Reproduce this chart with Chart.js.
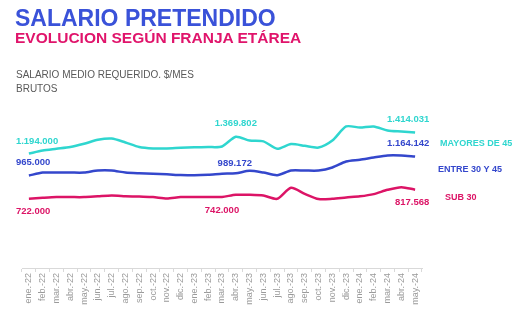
<!DOCTYPE html>
<html>
<head>
<meta charset="utf-8">
<script src="https://cdn.jsdelivr.net/npm/chart.js@4.4.1/dist/chart.umd.min.js"></script>
<style>
html, body { margin: 0; padding: 0; background: #fff; }
#wrap { position: relative; width: 532px; height: 328px; font-family: "Liberation Sans", Arial, sans-serif; }
#wrap canvas { position: absolute; left: 0; top: 0; }
.t { position: absolute; left: 15px; white-space: nowrap; }
#title { top: 7px; font-size: 23px; line-height: 23px; font-weight: bold; color: #3a52d9; }
#sub { top: 30px; font-size: 15.5px; line-height: 15.5px; font-weight: bold; color: #e0146b; }
#note { top: 68px; left: 16px; font-size: 10px; line-height: 14px; color: #595959; }
</style>
</head>
<body>
<div id="wrap">
	<canvas id="chart" width="532" height="328"></canvas>
	<div class="t" id="title">SALARIO PRETENDIDO</div>
	<div class="t" id="sub">EVOLUCION SEGÚN FRANJA ETÁREA</div>
	<div class="t" id="note">SALARIO MEDIO REQUERIDO. $/MES<br>BRUTOS</div>
</div>
<script>
'use strict'

// meses ene.-22 .. may.-24
var months = ['ene.-22','feb.-22','mar.-22','abr.-22','may.-22','jun.-22','jul.-22','ago.-22','sep.-22','oct.-22','nov.-22','dic.-22',
	'ene.-23','feb.-23','mar.-23','abr.-23','may.-23','jun.-23','jul.-23','ago.-23','sep.-23','oct.-23','nov.-23','dic.-23',
	'ene.-24','feb.-24','mar.-24','abr.-24','may.-24'];

var seriesNames = ['MAYORES DE 45', 'ENTRE 30 Y 45', 'SUB 30'];

var mayores45 = [1194000, 1226000, 1244000, 1262000, 1296000, 1338000, 1351000, 1310000, 1262000, 1247000, 1247000, 1254000,
	1259000, 1262000, 1268000, 1369802, 1330000, 1322000, 1244000, 1293000, 1275000, 1257000, 1330000, 1477000,
	1466000, 1477000, 1435000, 1424000, 1414031];

var entre30y45 = [965000, 996000, 996000, 996000, 996000, 1017000, 1017000, 996000, 988000, 983000, 978000, 970000,
	967000, 972000, 983000, 989172, 1014000, 996000, 969000, 1017000, 1017000, 1017000, 1049000, 1111000,
	1129000, 1153000, 1174000, 1174000, 1164142];

var sub30 = [722000, 732000, 740000, 740000, 740000, 748000, 756000, 750000, 745000, 740000, 725000, 740000,
	740000, 740000, 742000, 764000, 764000, 756000, 722000, 837000, 774000, 719000, 722000, 736000,
	748000, 771000, 816000, 844000, 817568];

var colors = ['#2fd6cf', '#3447cc', '#dc1466'];

// puntos con su valor escrito: [serie, mes, dx, dy, alineacion]
var valueLabels = [
	[0, 0, -13, -12, 'left'], [1, 0, -13, -13, 'left'], [2, 0, -13, 13, 'left'],
	[0, 15, 0, -13, 'center'], [1, 15, -1, -10, 'center'], [2, 14, 0, 13, 'center'],
	[0, 28, -7, -13, 'center'], [1, 28, -7, -13, 'center'], [2, 28, -3, 13, 'center']
];
// nombre de cada serie a la derecha: [dx desde el borde, dy desde el ultimo punto]
var nameOffsets = [[18, 11], [16, 13], [23, 8]];

function fmt (v) {
	return Math.round(v).toString().replace(/\B(?=(\d{3})+(?!\d))/g, '.');
}

var labelPlugin = {
	id: 'labels',
	afterDatasetsDraw: function (chart) {
		var ctx = chart.ctx, area = chart.chartArea;
		ctx.save();
		ctx.textBaseline = 'middle';
		ctx.font = 'bold 9.5px "Liberation Sans", Arial, sans-serif';
		valueLabels.forEach(function (l) {
			var ds = chart.data.datasets[l[0]],
				pt = chart.getDatasetMeta(l[0]).data[l[1]];
			ctx.fillStyle = ds.borderColor;
			ctx.textAlign = l[4];
			ctx.fillText(fmt(ds.data[l[1]]), pt.x + l[2], pt.y + l[3]);
		});
		ctx.font = 'bold 9px "Liberation Sans", Arial, sans-serif';
		ctx.textAlign = 'left';
		chart.data.datasets.forEach(function (ds, k) {
			var pts = chart.getDatasetMeta(k).data,
				last = pts[pts.length - 1];
			ctx.fillStyle = ds.borderColor;
			ctx.fillText(ds.label, area.right + nameOffsets[k][0], last.y + nameOffsets[k][1]);
		});
		ctx.restore();
	}
};

var dataChart = {
	labels: months,
	datasets: [mayores45, entre30y45, sub30].map(function (vals, k) {
		return {
			label: seriesNames[k],
			data: vals,
			borderColor: colors[k],
			backgroundColor: colors[k],
			borderWidth: 2.5,
			pointRadius: 0,
			tension: 0.25
		};
	})
};

new Chart(document.getElementById('chart'), {
	type: 'line',
	data: dataChart,
	plugins: [labelPlugin],
	options: {
		responsive: false,
		animation: false,
		layout: { padding: { left: 22, right: 110, top: 96, bottom: 20 } },
		plugins: { legend: { display: false }, tooltip: { enabled: false } },
		scales: {
			x: {
				offset: true,
				afterFit: function (scale) { scale.height = 40; },
				grid: { drawOnChartArea: false, drawTicks: true, tickLength: 4, color: '#d9d9d9', offset: true },
				border: { color: '#d9d9d9' },
				ticks: {
					autoSkip: false, maxRotation: 90, minRotation: 90, padding: 1,
					color: '#9a9a9a', font: { family: '"Liberation Sans", Arial, sans-serif', size: 9 }
				}
			},
			y: { display: false, min: 0, max: 1795000 }
		}
	}
});
</script>
</body>
</html>
